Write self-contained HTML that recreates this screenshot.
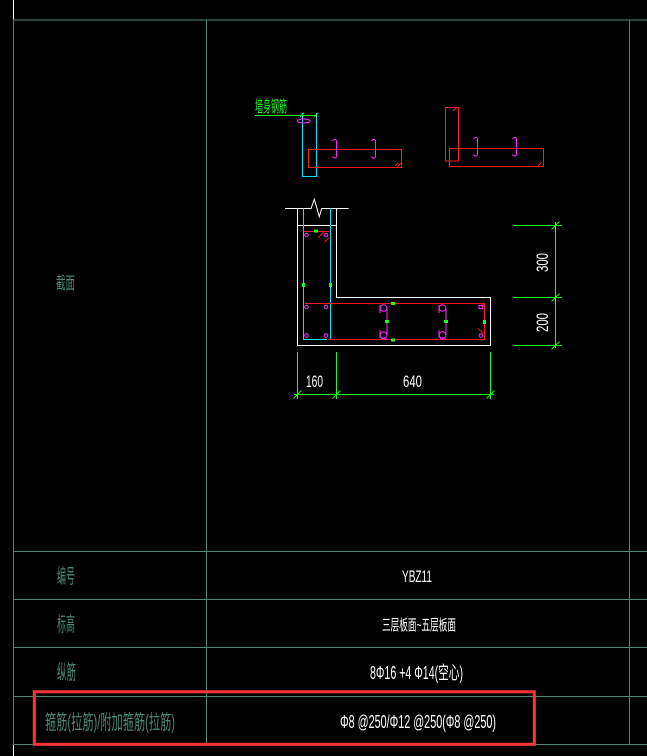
<!DOCTYPE html>
<html><head><meta charset="utf-8">
<style>
html,body{margin:0;padding:0;background:#000;}
svg{display:block;}
.lab{fill:#4a8a72;font-family:"Liberation Sans","Noto Sans CJK SC",sans-serif;}
.val{fill:#fff;font-family:"Liberation Sans","Noto Sans CJK SC",sans-serif;}
</style></head>
<body>
<svg width="647" height="756" viewBox="0 0 647 756" xmlns="http://www.w3.org/2000/svg">
<rect width="647" height="756" fill="#000"/>
<g stroke="#4a8a72" stroke-width="1" fill="none" shape-rendering="crispEdges">
  <line x1="13.5" y1="20" x2="647" y2="20"/>
  <line x1="13.5" y1="20" x2="13.5" y2="744"/>
  <line x1="206.5" y1="20" x2="206.5" y2="744"/>
  <line x1="629.5" y1="20" x2="629.5" y2="744"/>
  <line x1="13" y1="551.5" x2="647" y2="551.5"/>
  <line x1="13" y1="599.5" x2="647" y2="599.5"/>
  <line x1="13" y1="647.5" x2="647" y2="647.5"/>
  <line x1="13" y1="696.5" x2="647" y2="696.5"/>
  <line x1="13" y1="744.5" x2="647" y2="744.5"/>
</g>
<g stroke="#fff" stroke-width="1" shape-rendering="crispEdges">
  <line x1="13.5" y1="0" x2="13.5" y2="19.5"/>
  <line x1="13.5" y1="745" x2="13.5" y2="756"/>
</g>

<!-- labels -->
<text class="lab" x="56" y="289" font-size="17" textLength="19" lengthAdjust="spacingAndGlyphs">截面</text>
<text class="lab" x="57" y="583" font-size="20" textLength="18" lengthAdjust="spacingAndGlyphs">编号</text>
<text class="lab" x="57" y="631" font-size="20" textLength="18" lengthAdjust="spacingAndGlyphs">标高</text>
<text class="lab" x="57" y="679" font-size="20" textLength="19" lengthAdjust="spacingAndGlyphs">纵筋</text>
<text class="lab" x="45" y="729" font-size="20" textLength="130" lengthAdjust="spacingAndGlyphs">箍筋(拉筋)/附加箍筋(拉筋)</text>

<!-- values -->
<text class="val" x="402" y="582" font-size="17" textLength="30" lengthAdjust="spacingAndGlyphs">YBZ11</text>
<text class="val" x="382" y="630" font-size="15" textLength="74" lengthAdjust="spacingAndGlyphs">三层板面~五层板面</text>
<text class="val" x="370" y="679" font-size="18" textLength="93" lengthAdjust="spacingAndGlyphs">8Φ16 +4 Φ14(空心)</text>
<text class="val" x="340" y="728" font-size="18" textLength="156" lengthAdjust="spacingAndGlyphs">Φ8 @250/Φ12 @250(Φ8 @250)</text>

<!-- red highlight box -->
<rect x="34.3" y="691.8" width="500" height="52.5" fill="none" stroke="#ff3535" stroke-width="3"/>

<!-- top drawing 1 -->
<text x="255" y="112" font-size="16" fill="#1aff1a" font-family="Liberation Sans,'Noto Sans CJK SC',sans-serif" textLength="32" lengthAdjust="spacingAndGlyphs">墙身钢筋</text>
<g fill="none" stroke-width="1" shape-rendering="crispEdges">
  <line x1="255" y1="115.5" x2="317" y2="115.5" stroke="#1aff1a"/>
  <path d="M302.5 113 V176.5 H316.5 V113" stroke="#00e5ff"/>
  <path d="M308.5 149.5 H401.5 V167.5 H308.5 Z" stroke="#ff1a1a"/>
</g>
<g fill="none" stroke-width="1">
  <path d="M300 117 L304 113 M314 117 L318 113" stroke="#1aff1a"/>
  <path d="M397 167 L401 163 M395 166 L398 163" stroke="#ff1a1a"/>
  <path d="M332.5 141 Q333 139.5 335 139.5 Q336.5 139.5 336.5 141.5 V156 Q336.5 158 335 158 Q333 158 332.5 156.5" stroke="#ff2bff"/>
  <path d="M371.5 141 Q372 139.5 374 139.5 Q375.5 139.5 375.5 141.5 V156 Q375.5 158 374 158 Q372 158 371.5 156.5" stroke="#ff2bff"/>
</g>
<ellipse cx="303.7" cy="121" rx="6.5" ry="2" fill="none" stroke="#ff2bff" stroke-width="1"/>

<!-- top drawing 2 -->
<g fill="none" stroke-width="1" shape-rendering="crispEdges">
  <path d="M445.5 107.5 H458.5 V161 H445.5 Z" stroke="#ff1a1a"/>
  <path d="M449.5 148.5 H543.5 V166.5 H449.5 Z" stroke="#ff1a1a"/>
</g>
<g fill="none" stroke-width="1">
  <path d="M453 111 L457 107 M538 166 L542 162" stroke="#ff1a1a"/>
  <path d="M473.5 139 Q474 137.5 476 137.5 Q477.5 137.5 477.5 139.5 V154 Q477.5 156 476 156 Q474 156 473.5 154.5" stroke="#ff2bff"/>
  <path d="M512.5 139 Q513 137.5 515 137.5 Q516.5 137.5 516.5 139.5 V154 Q516.5 156 515 156 Q513 156 512.5 154.5" stroke="#ff2bff"/>
</g>

<!-- main section -->
<g fill="none" stroke-width="1" shape-rendering="crispEdges">
  <path d="M285 208.5 H311 L314.3 199.3 L319.3 216.7 L321.7 208.5 H348.5" stroke="#fff" shape-rendering="auto"/>
  <path d="M297.5 208.5 V345.5 H490.5 V297.5 H336.5 V208.5" stroke="#fff"/>
  <line x1="297.5" y1="225.5" x2="336.5" y2="225.5" stroke="#fff"/>
  <path d="M303.5 208.5 V339.5 H327 M330.5 208.5 V339.5" stroke="#00e5ff"/>
  <line x1="303.5" y1="231.5" x2="329.5" y2="231.5" stroke="#ff1a1a"/>
  <path d="M305 303.5 H484.5 V339.5 H328" stroke="#ff1a1a"/>
</g>
<g stroke="#ff1a1a" stroke-width="1">
  <line x1="318.3" y1="237.7" x2="323.3" y2="232.3"/>
  <line x1="324.3" y1="242.3" x2="329" y2="237.7"/>
  <line x1="478.3" y1="328.3" x2="483.3" y2="333.3"/>
  <line x1="481" y1="303" x2="485" y2="307"/>
</g>
<g fill="none" stroke="#ff2bff" stroke-width="1">
  <circle cx="306.5" cy="235" r="1.8"/>
  <circle cx="326" cy="235" r="1.8"/>
  <circle cx="306.5" cy="307" r="1.8"/>
  <circle cx="326" cy="307" r="1.8"/>
  <circle cx="306.5" cy="335.5" r="1.8"/>
  <circle cx="326" cy="335.5" r="1.8"/>
  <rect x="479" y="305.5" width="3.5" height="3" />
  <circle cx="481" cy="335.5" r="1.8"/>
  <circle cx="383.5" cy="308" r="3.3"/>
  <circle cx="383.5" cy="335" r="3.3"/>
  <path d="M380 305 V313 M380 330 V338 M387 308 V335 M381 339 H387"/>
  <circle cx="442.5" cy="308" r="3.3"/>
  <circle cx="442.5" cy="335" r="3.3"/>
  <path d="M439 305 V313 M439 330 V338 M446 308 V335 M440 339 H446"/>
</g>
<g fill="#1aff1a">
  <rect x="314" y="229.5" width="4" height="3"/>
  <rect x="302" y="283" width="3" height="4"/>
  <rect x="329" y="283" width="3" height="4"/>
  <rect x="391" y="302" width="4" height="3"/>
  <rect x="385" y="320" width="4" height="3"/>
  <rect x="444" y="320" width="4" height="3"/>
  <rect x="483" y="320" width="3" height="4"/>
  <rect x="391" y="338.5" width="4" height="3"/>
</g>

<!-- dimensions -->
<g stroke="#1aff1a" stroke-width="1" fill="none" shape-rendering="crispEdges">
  <line x1="555.5" y1="222" x2="555.5" y2="348"/>
  <line x1="513" y1="225.5" x2="562" y2="225.5"/>
  <line x1="513" y1="297.5" x2="562" y2="297.5"/>
  <line x1="514" y1="345.5" x2="562" y2="345.5"/>
  <line x1="294" y1="394.5" x2="494" y2="394.5"/>
  <line x1="297.5" y1="352" x2="297.5" y2="399"/>
  <line x1="336.5" y1="352" x2="336.5" y2="399"/>
  <line x1="490.5" y1="352" x2="490.5" y2="399"/>
</g>
<g stroke="#1aff1a" stroke-width="1">
  <line x1="551.5" y1="229.5" x2="559.5" y2="221.5"/>
  <line x1="551.5" y1="301.5" x2="559.5" y2="293.5"/>
  <line x1="551.5" y1="349.5" x2="559.5" y2="341.5"/>
  <line x1="293.5" y1="398.5" x2="301.5" y2="390.5"/>
  <line x1="332.5" y1="398.5" x2="340.5" y2="390.5"/>
  <line x1="486.5" y1="398.5" x2="494.5" y2="390.5"/>
</g>
<g fill="#fff" font-family="Liberation Sans, sans-serif">
  <text x="306" y="387" font-size="17" textLength="17" lengthAdjust="spacingAndGlyphs">160</text>
  <text x="403" y="387" font-size="17" textLength="19" lengthAdjust="spacingAndGlyphs">640</text>
  <text transform="translate(548 272) rotate(-90)" font-size="17" textLength="19" lengthAdjust="spacingAndGlyphs">300</text>
  <text transform="translate(548 332) rotate(-90)" font-size="17" textLength="19" lengthAdjust="spacingAndGlyphs">200</text>
</g>
</svg>
</body></html>
